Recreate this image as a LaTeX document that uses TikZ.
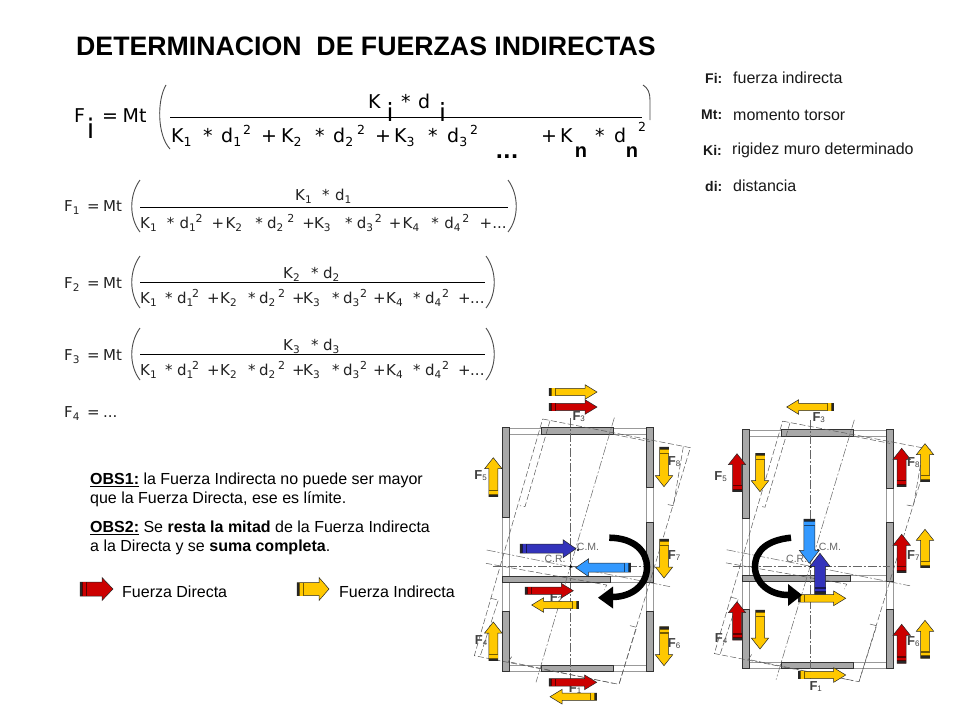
\documentclass[tikz,border=0pt]{standalone}
\usepackage{fontspec}
\setmainfont{Liberation Sans}
\newfontfamily\formfont{DejaVu Sans}
\definecolor{yel}{HTML}{FFC800}
\definecolor{rd}{HTML}{CC0000}
\definecolor{dblue}{HTML}{3333BB}
\definecolor{lblue}{HTML}{3399FF}
\definecolor{wallgray}{HTML}{A8A8A8}
\definecolor{formtxt}{HTML}{222222}
\newcommand{\BA}[8]{% tail x,y tip x,y colour shaft half, head half, head length
  \pgfmathsetmacro{\ang}{atan2(-(#4-#2),#3-#1)}
  \pgfmathsetmacro{\len}{veclen(#3-#1,#4-#2)}
  \begin{scope}[shift={(#1,#2)},rotate=\ang]
    \draw[fill=#5,draw=black!85,line width=.5pt,line join=miter]
      (0,-#6) -- (\len-#8,-#6) -- (\len-#8,-#7) -- (\len,0) -- (\len-#8,#7) -- (\len-#8,#6) -- (0,#6) -- cycle;
    \fill[#5!45!black] (0,-#6) rectangle (7,#6);
    \fill[black!85] (0,-#6) rectangle (2,#6);
    \fill[#5] (3,-#6) rectangle (5.5,#6);
  \end{scope}}
\newcommand{\Frame}{%
  \draw[gray!80,line width=.5pt,fill=white] (119,160) rectangle (528,178);
  \draw[gray!80,line width=.5pt,fill=white] (119,870) rectangle (528,888);
  \draw[gray!80,line width=.5pt,fill=white] (97,158) rectangle (119,888);
  \draw[gray!80,line width=.5pt,fill=white] (528,158) rectangle (550,888);
  \draw[gray!80,line width=.5pt,fill=white] (420,604) rectangle (528,622);
  \fill[wallgray,draw=black!80,line width=.6pt] (97,158) rectangle (119,428);
  \fill[wallgray,draw=black!80,line width=.6pt] (97,708) rectangle (119,888);
  \fill[wallgray,draw=black!80,line width=.6pt] (528,158) rectangle (550,337);
  \fill[wallgray,draw=black!80,line width=.6pt] (528,442) rectangle (550,622);
  \fill[wallgray,draw=black!80,line width=.6pt] (528,708) rectangle (550,888);
  \fill[wallgray,draw=black!80,line width=.6pt] (213,158) rectangle (430,178);
  \fill[wallgray,draw=black!80,line width=.6pt] (213,870) rectangle (430,888);
  \fill[wallgray,draw=black!80,line width=.6pt] (97,604) rectangle (420,622);
  \draw[wallline] (302,130) -- (302,920);
  \draw[wallline] (68,575) -- (540,575);
  \draw[wallline] (433,128) -- (198,922);
  \draw[wallline] (50,525) -- (600,635);
  \draw[tilt] (218,132) -- (661,218) -- (447,928) -- (13,842) -- cycle;
  \draw[tilt] (240,137) -- (165,395) -- (150,392);
  \draw[tilt] (640,215) -- (610,392) -- (590,388);
  \draw[tilt] (480,752) -- (500,757) -- (447,928);
  \draw[tilt] (62,670) -- (85,675) -- (30,845);
  \draw[tilt] (430,178) -- (540,200);
  \draw[tilt] (125,845) -- (115,860) -- (430,925);
  \draw[tilt] (48,565) -- (410,630) -- (403,645);
}
\def\dfac{1}
\newcommand{\T}[2]{\makebox[\dfac\dimexpr #1pt\relax][l]{#2}}
\newcommand{\sbs}[1]{\raisebox{-3pt}{\fontsize{10.5}{11}\selectfont #1}}
\newcommand{\sps}[1]{\raisebox{6pt}{\fontsize{11}{11}\selectfont #1}}
\newcommand{\msb}[1]{\raisebox{-4pt}{\fontsize{12.5}{13}\selectfont #1}}
\newcommand{\msp}[1]{\raisebox{8pt}{\fontsize{12.5}{13}\selectfont #1}}
\newcommand{\fsb}[1]{\raisebox{-1pt}{\fontsize{8}{9}\selectfont\mdseries #1}}
\newcommand{\Den}{%
  \T{25}{K\sbs{1}}\T{12}{*}\T{15}{d\sbs{1}}\T{15}{\sps{2}}\T{13}{+}%
  \T{28}{K\sbs{2}}\T{11}{*}\T{19}{d\sbs{2}}\T{14}{\sps{2}}\T{11}{+}%
  \T{29}{K\sbs{3}}\T{11}{*}\T{17}{d\sbs{3}}\T{13}{\sps{2}}\T{13}{+}%
  \T{27}{K\sbs{4}}\T{12}{*}\T{17}{d\sbs{4}}\T{16}{\sps{2}}\T{12}{+}...}
\tikzset{
  wallline/.style={gray!80!black,line width=.5pt,dash pattern=on 9pt off 2pt on 2pt off 2pt},
  tilt/.style={gray!70!black,line width=.5pt,dash pattern=on 6pt off 2.5pt},
  body/.style={inner sep=0pt,anchor=west,font=\fontsize{16}{18}\selectfont,text=black},
  legend/.style={inner sep=0pt,anchor=west,font=\fontsize{16}{18}\selectfont,text=black!90},
  legendb/.style={inner sep=0pt,anchor=west,font=\bfseries\fontsize{14}{16}\selectfont,text=black!90},
  form/.style={inner sep=0pt,anchor=base west,font=\formfont\fontsize{15}{17}\selectfont,text=formtxt},
  mainf/.style={inner sep=0pt,anchor=base west,font=\formfont\fontsize{19}{21}\selectfont,text=black},
  bigi/.style={inner sep=0pt,font=\formfont\fontsize{25}{25}\selectfont,text=black},
  bign/.style={inner sep=0pt,font=\bfseries\fontsize{20}{20}\selectfont,text=black},
  flab/.style={inner sep=0pt,font=\fontsize{13}{14}\selectfont\bfseries,text=black!75},
  cmlab/.style={inner sep=0pt,font=\fontsize{10.5}{12}\selectfont,text=black!60},
  fline/.style={line width=.8pt,black},
  par/.style={line width=.9pt,gray!60!black},
  spin/.style={line width=6.5pt,black}
}
\begin{document}
\begin{tikzpicture}[x=1pt,y=-1pt]
\useasboundingbox[fill=white] (0,0) rectangle (960,720);
% title
\node[inner sep=0pt,anchor=west,font=\bfseries\fontsize{26.7}{29}\selectfont] (title) at (76,46) {DETERMINACION\ \ DE FUERZAS INDIRECTAS};
% legend top right
\node[legendb] (l1) at (705,78) {Fi:};
\node[legend] (l1b) at (733,78) {fuerza indirecta};
\node[legendb] (l2) at (701,115) {Mt:};
\node[legend] (l2b) at (733,115) {momento torsor};
\node[legendb] (l3) at (703,150) {Ki:};
\node[legend] (l3b) at (732,150) {rigidez muro determinado};
\node[legendb] (l4) at (705,186) {di:};
\node[legend] (l4b) at (733,186) {distancia};
% main formula
\node[mainf] (mF) at (74,122) {F};
\node[bigi,font=\formfont\fontsize{27}{27}\selectfont] (mi) at (90.7,128.5) {i};
\node[mainf] (mMt) at (102,122) {\T{20.5}{=}Mt};
\draw[par] (166,85) .. controls (157,100) and (157,135) .. (170,149);
\draw[par] (643,85) .. controls (648,88) and (650,93) .. (650,100) -- (650,120);
\draw[fline] (170,117.3) -- (642,117.3);
\node[mainf] (mK) at (368,108) {K};
\node[bigi] (mKi) at (390,112) {i};
\node[mainf] (mstar) at (401,108) {\T{17}{*}d};
\node[bigi] (mdi) at (442.7,112) {i};
\node[mainf] (mden) at (171,142) {\T{32}{K\msb{1}}\T{18}{*}\T{22}{d\msb{1}}\T{18}{\msp{2}}%
  \T{20}{+}\T{34}{K\msb{2}}\T{18}{*}\T{24}{d\msb{2}}\T{18}{\msp{2}}\T{19}{+}\T{34}{K\msb{3}}\T{19}{*}\T{23}{d\msb{3}}\msp{2}};
\node[inner sep=0pt,font=\formfont\bfseries\fontsize{20}{20}\selectfont] (mdots) at (507,157) {...};
\node[mainf] (mKn) at (541,142) {\T{19}{+}K};
\node[bign] (mn1) at (581,152) {n};
\node[mainf] (mdn) at (595,142) {\T{19}{*}d};
\node[bign] (mn2) at (632,152) {n};
\node[inner sep=0pt,font=\formfont\fontsize{12.5}{13}\selectfont] (msq) at (642,127) {2};
% F1
\node[form] (f1) at (64,211) {F\sbs{1}};
\node[form] (f1b) at (87,211) {\T{16}{=}Mt};
\draw[par] (140,180) .. controls (129,195) and (129,218) .. (140,232);
\draw[par] (508,180) .. controls (519,195) and (519,218) .. (508,232);
\draw[fline] (140,207) -- (508,207);
\node[form] (f1n) at (295,200) {\T{27}{K\sbs{1}}\T{13}{*}d\sbs{1}};
\node[form] (f1d) at (140,228) {\def\dfac{1.067}\Den};
% F2
\node[form] (f2) at (64,288) {F\sbs{2}};
\node[form] (f2b) at (87,288) {\T{16}{=}Mt};
\draw[par] (140,256) .. controls (129,271) and (129,294) .. (140,308);
\draw[par] (486,256) .. controls (497,271) and (497,294) .. (486,308);
\draw[fline] (140,282) -- (485,282);
\node[form] (f2n) at (283,278) {\T{28}{K\sbs{2}}\T{12}{*}d\sbs{2}};
\node[form] (f2d) at (140,303) {\Den};
% F3
\node[form] (f3) at (64,360) {F\sbs{3}};
\node[form] (f3b) at (87,360) {\T{16}{=}Mt};
\draw[par] (140,328) .. controls (129,343) and (129,366) .. (140,380);
\draw[par] (486,328) .. controls (497,343) and (497,366) .. (486,380);
\draw[fline] (140,354) -- (485,354);
\node[form] (f3n) at (283,350) {\T{28}{K\sbs{3}}\T{12}{*}d\sbs{3}};
\node[form] (f3d) at (140,375) {\Den};
% F4
\node[form] (f4) at (64,417) {F\sbs{4}};
\node[form] (f4b) at (87,417) {\T{16}{=}...};
% Observations
\node[body] (o1) at (90,480) {\underline{\textbf{OBS1:}} la Fuerza Indirecta no puede ser mayor};
\node[body] (o2) at (90,499) {que la Fuerza Directa, ese es límite.};
\node[body] (o3) at (90,528) {\underline{\textbf{OBS2:}} Se \textbf{resta la mitad} de la Fuerza Indirecta};
\node[body] (o4) at (90,547) {a la Directa y se \textbf{suma completa}.};
\BA{80}{589}{113}{589}{rd}{7}{11.5}{11}
\BA{297}{589}{329}{589}{yel}{6.5}{11.5}{10}
\node[body] (lf1) at (122,592) {Fuerza Directa};
\node[body] (lf2) at (339,592) {Fuerza Indirecta};
% plan 1
\begin{scope}[shift={(470,375)},scale=1/3]\Frame\end{scope}
\begin{scope}[xshift=240pt,yshift=-9.69pt,yscale=.982]
\begin{scope}[shift={(470,375)},scale=1/3]\Frame\end{scope}
\end{scope}
% labels plan 1, behind the arrows
\node[flab] (a3) at (578.7,417) {F\fsb{3}};
\node[flab] (a2) at (556,598) {F\fsb{2}};
\node[flab] (a1) at (575,689) {F\fsb{1}};
\node[cmlab] (acm) at (588,547) {C.M.};
\node[cmlab] (acr) at (555,559) {C.R.};
\fill[black] (578,550) circle (1.2);
\fill[black] (570.7,566.7) circle (1.5);
% arrows plan 1
\BA{549}{392}{597}{392}{yel}{3.7}{7.3}{12}
\BA{549}{407}{597}{407}{rd}{3.7}{7.3}{12}
\BA{493.3}{496.7}{493.3}{457.7}{yel}{4.5}{8.7}{11}
\BA{664}{447}{664}{486.7}{yel}{4.5}{8.7}{11}
\BA{664}{539}{664}{578}{yel}{4.5}{8.7}{11}
\BA{664}{626.7}{664}{665.7}{yel}{4.5}{8.7}{11}
\BA{493.3}{660.7}{493.3}{622}{yel}{4.5}{8.7}{11}
\BA{520}{548.7}{576}{548.7}{dblue}{4.5}{9}{13}
\BA{630.7}{567.7}{575.7}{567.7}{lblue}{4.5}{9}{13}
\BA{525}{590.7}{573.3}{590.7}{rd}{3.7}{7.3}{12}
\BA{578.7}{605}{531.7}{605}{yel}{3.7}{7.3}{12}
\BA{549}{682.3}{596.7}{682.3}{rd}{3.7}{7.3}{12}
\BA{596.7}{696.7}{550}{696.7}{yel}{3.7}{7.3}{12}
\draw[spin] (609.3,537.7) .. controls (635,538) and (647,552) .. (647,567) .. controls (647,585) and (632,597) .. (612,597);
\fill[black] (598,597.7) -- (613,586.5) -- (613,608.5) -- cycle;
% labels plan 1, over the arrows
\node[flab] (a5) at (480.5,475.7) {F\fsb{5}};
\node[flab] (a8) at (674,462) {F\fsb{8}};
\node[flab] (a7) at (674,555.7) {F\fsb{7}};
\node[flab] (a6) at (674,643.7) {F\fsb{6}};
\node[flab] (a4) at (481,640.7) {F\fsb{4}};
% labels plan 2
\node[flab] (b3) at (818.7,418) {F\fsb{3}};
\node[flab] (b1) at (815.7,686.7) {F\fsb{1}};
\node[cmlab] (bcm) at (830,546.7) {C.M.};
\node[cmlab] (bcr) at (796.7,558.7) {C.R.};
\fill[black] (818,550) circle (1.2);
\fill[black] (810.7,566.7) circle (1.5);
% arrows plan 2
\BA{833.7}{407}{786.7}{407}{yel}{3.7}{7.3}{12}
\BA{737}{491.7}{737}{453.7}{rd}{4.5}{8.7}{11}
\BA{760}{453.3}{760}{491.7}{yel}{4.5}{8.7}{11}
\BA{901.7}{486.7}{901.7}{448.3}{rd}{4.5}{8.7}{11}
\BA{925}{481.7}{925}{443.7}{yel}{4.5}{8.7}{11}
\BA{901.7}{572.7}{901.7}{534.3}{rd}{4.5}{8.7}{11}
\BA{925}{567.7}{925}{529.3}{yel}{4.5}{8.7}{11}
\BA{901.7}{663.3}{901.7}{624.3}{rd}{4.5}{8.7}{11}
\BA{925}{658.3}{925}{620.3}{yel}{4.5}{8.7}{11}
\BA{737}{640}{737}{601.7}{rd}{4.5}{8.7}{11}
\BA{760}{610}{760}{649}{yel}{4.5}{8.7}{11}
\BA{809.3}{519}{809.3}{563.3}{lblue}{5.5}{10}{13}
\BA{798.3}{598.3}{845.7}{598.3}{yel}{3.7}{7.3}{12}
\BA{820}{594.3}{820}{553.3}{dblue}{5.5}{10}{13}
\BA{798.3}{675}{845.7}{675}{yel}{3.7}{7.3}{12}
\draw[spin] (791,537.7) .. controls (768,540) and (755,550) .. (755,567) .. controls (755,583) and (770,595) .. (788,595);
\fill[black] (802,595) -- (788,584) -- (788,606) -- cycle;
% labels plan 2, over the arrows
\node[flab] (b5) at (720.5,476.7) {F\fsb{5}};
\node[flab] (b8) at (913.3,463) {F\fsb{8}};
\node[flab] (b7) at (913.3,555.7) {F\fsb{7}};
\node[flab] (b6) at (913.3,641.7) {F\fsb{6}};
\node[flab] (b4) at (721,639) {F\fsb{4}};
\end{tikzpicture}
\end{document}
